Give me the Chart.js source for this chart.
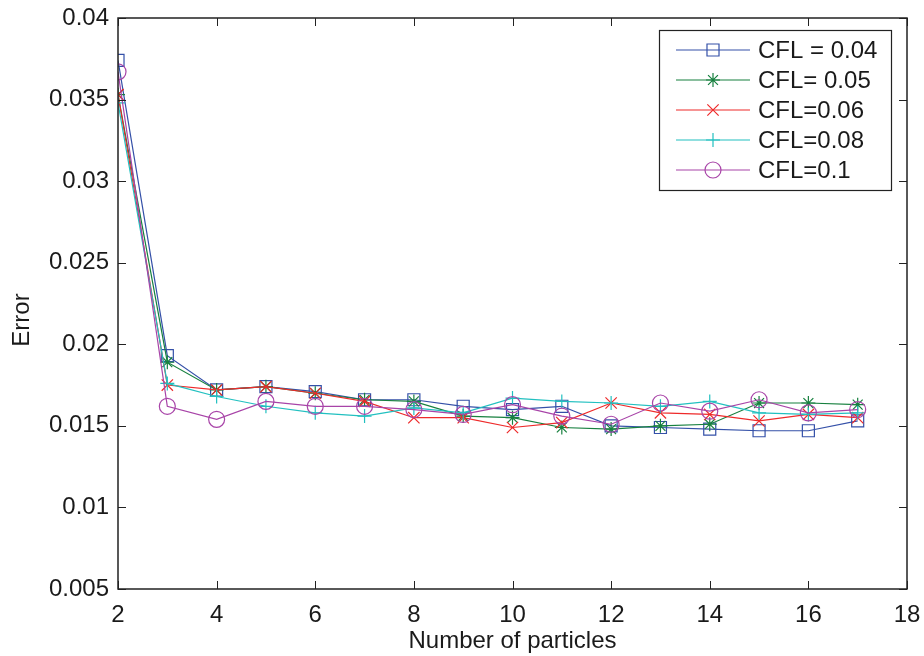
<!DOCTYPE html>
<html>
<head>
<meta charset="utf-8">
<script src="https://cdn.jsdelivr.net/npm/chart.js@4/dist/chart.umd.min.js"></script>
<style>
html,body{margin:0;padding:0;background:#fff;}
#wrap{width:924px;height:656px;position:relative;}
</style>
</head>
<body>
<div id="wrap"><canvas id="c" width="924" height="656"></canvas></div>
<script>
const particles = [2,3,4,5,6,7,8,9,10,11,12,13,14,15,16,17];
const xTicks = [2,4,6,8,10,12,14,16,18];
const yTicks = [0.005,0.01,0.015,0.02,0.025,0.03,0.035,0.04];
const yTickLabels = ["0.005","0.01","0.015","0.02","0.025","0.03","0.035","0.04"];
const seriesLabels = ["CFL = 0.04","CFL= 0.05","CFL=0.06","CFL=0.08","CFL=0.1"];
const cfl004 = [0.0374,0.0193,0.0172,0.0174,0.0171,0.0166,0.0166,0.0162,0.0160,0.0162,0.0150,0.0149,0.0148,0.0147,0.0147,0.0153];
const cfl005 = [0.0353,0.0189,0.0172,0.0174,0.0170,0.0166,0.0165,0.0156,0.0155,0.0149,0.0148,0.0150,0.0151,0.0164,0.0164,0.0163];
const cfl006 = [0.0353,0.0175,0.0172,0.0174,0.0170,0.0165,0.0155,0.0155,0.0149,0.0152,0.0164,0.0158,0.0157,0.0153,0.0157,0.0155];
const cfl008 = [0.0348,0.0176,0.0168,0.0162,0.0158,0.0156,0.0161,0.0158,0.0167,0.0165,0.0164,0.0162,0.0165,0.0158,0.0157,0.0158];
const cfl010 = [0.0367,0.0162,0.0154,0.0165,0.0162,0.0162,0.0160,0.0157,0.0163,0.0156,0.0151,0.0164,0.0159,0.0166,0.0158,0.0160];

const allSeries = [cfl004,cfl005,cfl006,cfl008,cfl010];
const colors = ["#3450a8","#17803f","#ee2a2a","#22c0c0","#a844a8"];
const styles = ["rect","star","crossRot","cross","circle"];
const radii = [8.5,7,8,7,8];

const FONT = "'Liberation Sans', Arial, Helvetica, sans-serif";
const TXT = '#1a1a1a';

const datasets = allSeries.map((s,i)=>({
  label: seriesLabels[i],
  data: s.map((v,j)=>({x:particles[j], y:v})),
  borderColor: colors[i],
  backgroundColor: 'rgba(0,0,0,0)',
  pointBorderColor: colors[i],
  pointBackgroundColor: 'rgba(0,0,0,0)',
  pointStyle: styles[i],
  pointRadius: radii[i],
  pointBorderWidth: 1.2,
  borderWidth: 1.2,
  tension: 0,
  order: 5 - i
}));

const framePlugin = {
  id: 'frame',
  afterDraw(chart){
    const {ctx, chartArea:a, scales} = chart;
    ctx.save();
    ctx.strokeStyle = '#222';
    ctx.lineWidth = 1.5;
    ctx.strokeRect(a.left, a.top, a.right-a.left, a.bottom-a.top);
    ctx.lineWidth = 1;
    const L = 8;
    ctx.beginPath();
    xTicks.forEach(v=>{
      const px = Math.round(scales.x.getPixelForValue(v))+0.5;
      ctx.moveTo(px, a.bottom); ctx.lineTo(px, a.bottom-L);
      ctx.moveTo(px, a.top); ctx.lineTo(px, a.top+L);
    });
    yTicks.forEach(v=>{
      const py = Math.round(scales.y.getPixelForValue(v))+0.5;
      ctx.moveTo(a.left, py); ctx.lineTo(a.left+L, py);
      ctx.moveTo(a.right, py); ctx.lineTo(a.right-L, py);
    });
    ctx.stroke();

    // y axis title
    ctx.save();
    ctx.translate(22, 320);
    ctx.rotate(-Math.PI/2);
    ctx.fillStyle = TXT;
    ctx.font = '24px ' + FONT;
    ctx.textAlign = 'center';
    ctx.textBaseline = 'middle';
    ctx.fillText('Error', 0, 0);
    ctx.restore();

    // legend
    const bx=659, by=30, bw=232, bh=160;
    ctx.fillStyle='#fff';
    ctx.fillRect(bx,by,bw,bh);
    ctx.strokeStyle='#222';
    ctx.lineWidth=1.2;
    ctx.strokeRect(bx+0.5,by+0.5,bw,bh);
    chart.data.datasets.forEach((ds,i)=>{
      const y = by + 20 + i*30;
      ctx.strokeStyle = ds.borderColor;
      ctx.lineWidth = 1.2;
      ctx.beginPath();
      ctx.moveTo(676,y); ctx.lineTo(750,y);
      ctx.stroke();
      ctx.fillStyle='rgba(0,0,0,0)';
      Chart.helpers.drawPoint(ctx,{pointStyle:ds.pointStyle,radius:ds.pointRadius,rotation:0,borderWidth:1.2},713,y);
      ctx.fillStyle=TXT;
      ctx.font = '24px ' + FONT;
      ctx.textBaseline='middle';
      ctx.textAlign='left';
      ctx.fillText(ds.label, 758, y+1);
    });
    ctx.restore();
  }
};

new Chart(document.getElementById('c'), {
  type: 'line',
  data: { datasets },
  options: {
    responsive: false,
    animation: false,
    layout: { padding: { top: 18, right: 17, left: 0, bottom: 0 } },
    plugins: { legend: { display: false }, tooltip: { enabled: false } },
    scales: {
      x: {
        type: 'linear', min: 2, max: 18,
        afterBuildTicks(s){ s.ticks = xTicks.map(v=>({value:v})); },
        afterFit(s){ s.height = 67; s.paddingLeft = 0; s.paddingRight = 0; },
        grid: { display: false },
        border: { display: false },
        ticks: { color:TXT, font:{ size: 24, family: FONT }, padding: 4, maxRotation:0, callback:(v)=>String(v) },
        title: { display: true, text: 'Number of particles', color:TXT, font:{ size: 24, family: FONT }, padding: {top: 0, bottom: 0} }
      },
      y: {
        type: 'linear', min: 0.005, max: 0.04,
        afterBuildTicks(s){ s.ticks = yTicks.map(v=>({value:v})); },
        afterFit(s){ s.width = 118; s.paddingTop = 0; s.paddingBottom = 0; },
        grid: { display: false },
        border: { display: false },
        ticks: { color:TXT, font:{ size: 24, family: FONT }, padding: 1,
          callback:(v)=>{ const k = yTicks.findIndex(t=>Math.abs(t-v)<1e-9); return k>=0 ? yTickLabels[k] : ''; } },
        title: { display: false }
      }
    }
  },
  plugins: [framePlugin]
});
</script>
</body>
</html>
